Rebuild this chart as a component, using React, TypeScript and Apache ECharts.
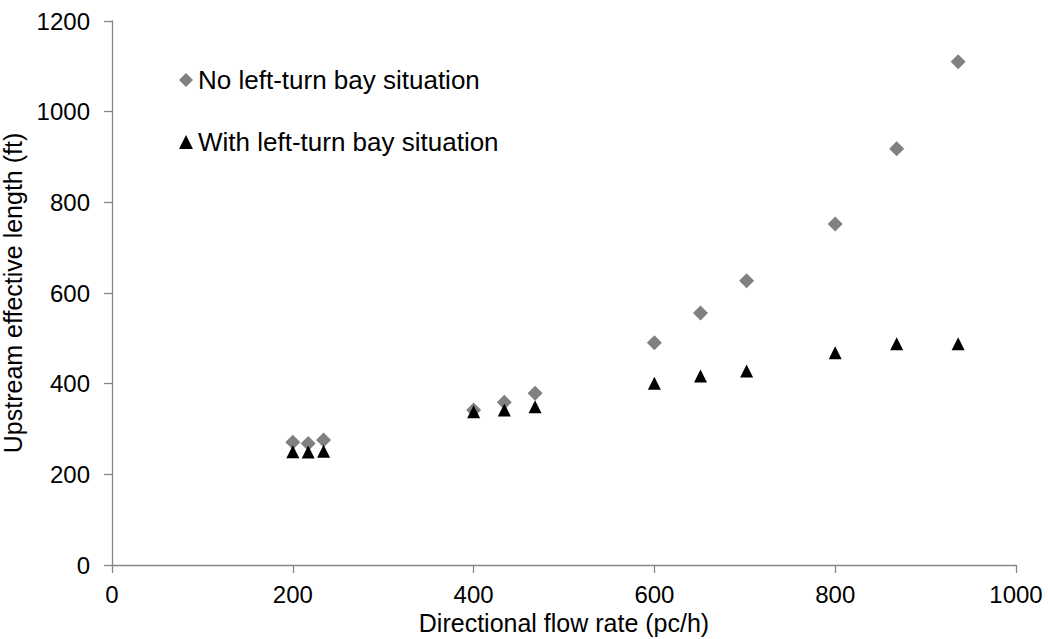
import React, { useEffect, useRef } from "react";
import * as echarts from "echarts";

const flowRates = [200, 217, 234, 400, 434, 468, 600, 651, 702, 800, 868, 936];
const noBayLengths = [271, 268, 276, 342, 359, 379, 490, 556, 627, 752, 918, 1110];
const withBayLengths = [250, 249, 251, 338, 342, 349, 401, 417, 428, 468, 488, 488];
const seriesNames = ["No left-turn bay situation", "With left-turn bay situation"];

const FONT = "'Liberation Sans', Arial, sans-serif";

export default function App() {
  const ref = useRef<HTMLDivElement>(null);
  useEffect(() => {
    if (!ref.current) return;
    const chart = echarts.init(ref.current, null, { renderer: "svg" });
    const axisLine = { show: true, lineStyle: { color: "#868686", width: 1.3 } };
    const axisTick = { show: true, inside: false, length: 8, lineStyle: { color: "#868686", width: 1.3 } };
    chart.setOption({
      animation: false,
      backgroundColor: "#ffffff",
      textStyle: { fontFamily: FONT },
      grid: { left: 112, right: 32, top: 21, bottom: 74, containLabel: false, outerBoundsMode: "none" },
      legend: {
        orient: "vertical",
        left: 174,
        top: 62,
        itemGap: 36,
        itemWidth: 14,
        itemHeight: 14,
        textStyle: { fontFamily: FONT, fontSize: 26, lineHeight: 26, color: "#000000" },
        data: [
          { name: seriesNames[0], icon: "diamond", itemStyle: { color: "#808080", opacity: 1 } },
          { name: seriesNames[1], icon: "triangle", itemStyle: { color: "#000000", opacity: 1 } },
        ],
      },
      xAxis: {
        type: "value",
        min: 0,
        max: 1000,
        interval: 200,
        name: "Directional flow rate (pc/h)",
        nameLocation: "middle",
        nameGap: 45,
        nameTextStyle: { fontFamily: FONT, fontSize: 25, color: "#000000" },
        axisLine,
        axisTick,
        axisLabel: { fontFamily: FONT, fontSize: 24, color: "#000000", margin: 17, formatter: (v: number) => String(v) },
        splitLine: { show: false },
      },
      yAxis: {
        type: "value",
        min: 0,
        max: 1200,
        interval: 200,
        name: "Upstream effective length (ft)",
        nameLocation: "middle",
        nameGap: 79,
        nameTextStyle: { fontFamily: FONT, fontSize: 25, color: "#000000" },
        axisLine,
        axisTick,
        axisLabel: { fontFamily: FONT, fontSize: 24, color: "#000000", margin: 22, formatter: (v: number) => String(v) },
        splitLine: { show: false },
      },
      series: [
        {
          name: seriesNames[0],
          type: "scatter",
          symbol: "diamond",
          symbolSize: 15,
          itemStyle: { color: "#808080", opacity: 1 },
          data: flowRates.map((x, i) => [x, noBayLengths[i]]),
          z: 2,
        },
        {
          name: seriesNames[1],
          type: "scatter",
          symbol: "triangle",
          symbolSize: 13,
          itemStyle: { color: "#000000", opacity: 1 },
          data: flowRates.map((x, i) => [x, withBayLengths[i]]),
          z: 3,
        },
      ],
    });
    return () => chart.dispose();
  }, []);
  return (
    <div
      ref={ref}
      style={{ position: "fixed", left: 0, top: 0, width: 1048, height: 639, background: "#fff" }}
    />
  );
}
